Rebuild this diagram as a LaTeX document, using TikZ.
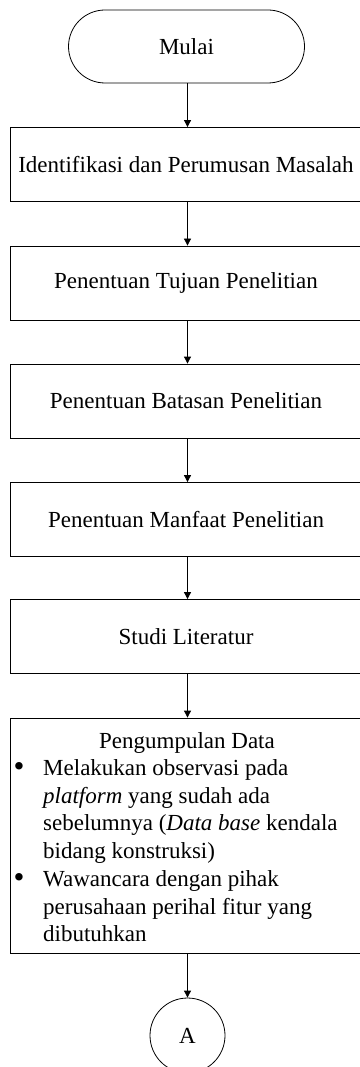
\documentclass[tikz,border=0pt]{standalone}
\usepackage{fontspec}
\usepackage{graphicx}
\setmainfont{Liberation Serif}
\usetikzlibrary{arrows.meta,shapes.misc}
\newcommand{\flowfont}{\fontsize{23}{27.7}\selectfont}
\newcommand{\bigbullet}{\raisebox{-0.06em}{\scalebox{1.35}{\textbullet}}}
\tikzset{
  base/.style={draw, line width=0.8pt, font=\flowfont},
  procbox/.style={base, rectangle, minimum width=352pt, minimum height=74pt, inner sep=0pt},
  flow/.style={line width=0.8pt, -{Triangle[length=7pt,width=7pt]}},
  txt/.style={font=\flowfont, inner sep=0pt}
}
\begin{document}
\begin{tikzpicture}[x=1pt,y=-1pt]
\useasboundingbox (0,0) rectangle (359,1067);
\node[base, rounded rectangle, minimum width=236pt, minimum height=73pt, inner sep=0pt] (start) at (186.5,46.5) {Mulai};
\node[procbox] (b1) at (186,164.5) {Identifikasi dan Perumusan Masalah};
\node[procbox] (b2) at (186,283) {Penentuan Tujuan Penelitian};
\node[procbox] (b3) at (186,401) {Penentuan Batasan Penelitian};
\node[procbox] (b4) at (186,519.5) {Penentuan Manfaat Penelitian};
\node[procbox] (b5) at (186,636.5) {Studi Literatur};
\node[procbox, minimum height=235pt] (b6) at (186,835.5) {};
\node[txt, anchor=base] (b6title) at (187,748) {Pengumpulan Data};
\node[txt, anchor=base west, align=left] (b6list) at (13.5,775.5) {%
\begin{tabular}[t]{@{}p{29.5pt}@{}l@{}}
\bigbullet & Melakukan observasi pada\\
 & \textit{platform} yang sudah ada\\
 & sebelumnya (\textit{Data base} kendala\\
 & bidang konstruksi)\\
\bigbullet & Wawancara dengan pihak\\
 & perusahaan perihal fitur yang\\
 & dibutuhkan
\end{tabular}};
\node[base, circle, minimum size=75pt, inner sep=0pt] (conA) at (187.5,1035.5) {A};
\draw[flow] (start.south -| 187.5,0) -- (b1.north -| 187.5,0);
\draw[flow] (b1.south -| 187.5,0) -- (b2.north -| 187.5,0);
\draw[flow] (b2.south -| 187.5,0) -- (b3.north -| 187.5,0);
\draw[flow] (b3.south -| 187.5,0) -- (b4.north -| 187.5,0);
\draw[flow] (b4.south -| 187.5,0) -- (b5.north -| 187.5,0);
\draw[flow] (b5.south -| 187.5,0) -- (b6.north -| 187.5,0);
\draw[flow] (b6.south -| conA.north) -- (conA.north);
\end{tikzpicture}
\end{document}
